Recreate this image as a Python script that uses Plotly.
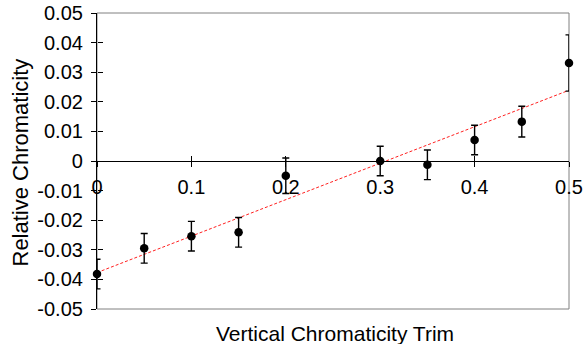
import plotly.graph_objects as go

trim = [0.0, 0.05, 0.1, 0.15, 0.2, 0.3, 0.35, 0.4, 0.45, 0.5]
chroma = [-0.0382, -0.0295, -0.0254, -0.0241, -0.0050, 0.0000, -0.0013, 0.0071, 0.0133, 0.0331]
err = [0.0050, 0.0050, 0.0050, 0.0050, 0.0060, 0.0050, 0.0050, 0.0050, 0.0052, 0.0095]

trend_x = [0.0, 0.5]
trend_y = [-0.0377, 0.0239]

x_ticks = [0, 0.1, 0.2, 0.3, 0.4, 0.5]
x_ticktext = ["0", "0.1", "0.2", "0.3", "0.4", "0.5"]
y_ticks = [-0.05, -0.04, -0.03, -0.02, -0.01, 0, 0.01, 0.02, 0.03, 0.04, 0.05]
y_ticktext = ["-0.05", "-0.04", "-0.03", "-0.02", "-0.01", "0", "0.01", "0.02", "0.03", "0.04", "0.05"]

FONT = "Liberation Sans, Arial, sans-serif"

fig = go.Figure()
fig.add_trace(go.Scatter(
    x=trend_x, y=trend_y, mode="lines",
    line=dict(color="#ff2020", width=1, dash="3px,2px"),
    showlegend=False, hoverinfo="skip"))
fig.add_trace(go.Scatter(
    x=trim, y=chroma, mode="markers",
    marker=dict(color="black", size=8.5),
    error_y=dict(type="data", array=err, visible=True, color="black", thickness=1.4, width=3.5),
    showlegend=False, cliponaxis=False))
fig.add_trace(go.Scatter(x=[None], y=[None], xaxis="x2", yaxis="y2", showlegend=False, hoverinfo="skip"))

fig.update_layout(
    width=587, height=344,
    margin=dict(l=97, r=18, t=13, b=35, autoexpand=False),
    paper_bgcolor="white", plot_bgcolor="white",
    font=dict(family=FONT, size=20, color="black"),
    xaxis=dict(range=[0, 0.5], anchor="free", position=0.5, automargin=False,
               showline=True, linecolor="black", linewidth=1.2,
               ticks="outside", ticklen=5, tickcolor="black", tickwidth=1,
               tickvals=x_ticks, ticktext=x_ticktext, ticklabelstandoff=3,
               showgrid=False, zeroline=False, tickfont=dict(size=20)),
    xaxis2=dict(range=[0, 0.5], overlaying="x", anchor="free", position=0.5, automargin=False,
                showline=False, ticks="inside", ticklen=5, tickcolor="black", tickwidth=1,
                tickvals=x_ticks, showticklabels=False, showgrid=False, zeroline=False),
    yaxis=dict(range=[-0.05, 0.05], automargin=False,
               showline=True, linecolor="black", linewidth=1.2,
               ticks="outside", ticklen=5, tickcolor="black", tickwidth=1,
               tickvals=y_ticks, ticktext=y_ticktext, ticklabelstandoff=4,
               showgrid=False, zeroline=False, tickfont=dict(size=20)),
    yaxis2=dict(range=[-0.05, 0.05], overlaying="y", anchor="free", position=0, side="left",
                automargin=False,
                showline=False, ticks="inside", ticklen=5, tickcolor="black", tickwidth=1,
                tickvals=y_ticks, showticklabels=False, showgrid=False, zeroline=False),
    shapes=[dict(type="rect", xref="paper", yref="paper", x0=0, x1=1, y0=0, y1=1,
                 line=dict(color="#808080", width=1), layer="below")],
    annotations=[
        dict(text="Vertical Chromaticity Trim", xref="paper", yref="paper",
             x=0.505, y=-0.083, yanchor="middle", xanchor="center", showarrow=False,
             font=dict(size=21)),
        dict(text="Relative Chromaticity", xref="paper", yref="paper",
             x=(20 - 97) / 472, y=(309 - 162.5) / 296, xanchor="center", yanchor="middle",
             textangle=-90, showarrow=False, font=dict(size=22)),
    ],
)

fig.write_html("out.html", config={"displayModeBar": False},
               post_script="document.body.style.margin='0';")
